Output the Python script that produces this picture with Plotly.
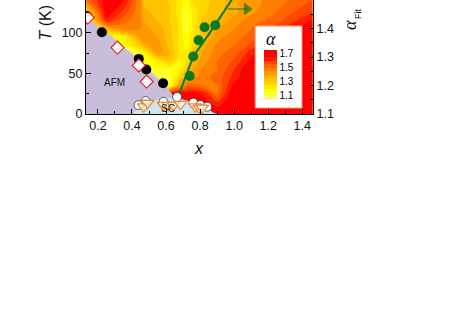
import plotly.graph_objects as go

# alpha map, rows bottom to top
grid_x = [0.13, 0.25, 0.35, 0.45, 0.47, 0.55, 0.62, 0.68, 0.72, 0.76, 0.82, 0.9, 1.0, 1.1, 1.2, 1.3, 1.46]
grid_t = [0, 15, 25, 35, 45, 55, 65, 75, 85, 95, 105, 115, 125, 141]
alpha = [
    [1.72, 1.72, 1.72, 1.72, 1.72, 1.72, 1.72, 1.72, 1.72, 1.72, 1.72, 1.72, 1.72, 1.72, 1.72, 1.72, 1.72],
    [1.15, 1.15, 1.15, 1.15, 1.15, 1.15, 1.72, 1.72, 1.72, 1.70, 1.68, 1.60, 1.72, 1.72, 1.72, 1.72, 1.72],
    [1.15, 1.15, 1.15, 1.15, 1.15, 1.15, 1.68, 1.70, 1.68, 1.68, 1.64, 1.50, 1.72, 1.72, 1.72, 1.72, 1.72],
    [1.15, 1.15, 1.15, 1.15, 1.15, 1.12, 1.15, 1.42, 1.50, 1.52, 1.50, 1.50, 1.67, 1.72, 1.72, 1.72, 1.72],
    [1.15, 1.15, 1.15, 1.15, 1.15, 1.10, 1.12, 1.28, 1.38, 1.44, 1.48, 1.52, 1.62, 1.72, 1.72, 1.72, 1.72],
    [1.15, 1.15, 1.15, 1.15, 1.15, 1.15, 1.15, 1.20, 1.32, 1.40, 1.46, 1.50, 1.60, 1.72, 1.72, 1.72, 1.72],
    [1.15, 1.15, 1.15, 1.15, 1.15, 1.22, 1.32, 1.20, 1.25, 1.37, 1.43, 1.50, 1.56, 1.67, 1.72, 1.72, 1.72],
    [1.15, 1.15, 1.15, 1.15, 1.17, 1.42, 1.36, 1.24, 1.22, 1.32, 1.41, 1.48, 1.53, 1.63, 1.71, 1.72, 1.72],
    [1.15, 1.15, 1.15, 1.32, 1.38, 1.43, 1.33, 1.24, 1.17, 1.27, 1.38, 1.46, 1.50, 1.56, 1.67, 1.72, 1.72],
    [1.15, 1.15, 1.20, 1.42, 1.44, 1.40, 1.32, 1.24, 1.16, 1.24, 1.34, 1.43, 1.48, 1.52, 1.60, 1.67, 1.72],
    [1.15, 1.35, 1.47, 1.45, 1.42, 1.38, 1.32, 1.24, 1.13, 1.22, 1.34, 1.40, 1.45, 1.50, 1.54, 1.61, 1.70],
    [1.15, 1.62, 1.52, 1.45, 1.40, 1.35, 1.30, 1.24, 1.12, 1.22, 1.32, 1.36, 1.42, 1.48, 1.51, 1.56, 1.66],
    [1.25, 1.69, 1.58, 1.45, 1.36, 1.34, 1.31, 1.22, 1.12, 1.22, 1.29, 1.33, 1.39, 1.44, 1.48, 1.53, 1.60],
    [1.50, 1.69, 1.66, 1.46, 1.34, 1.33, 1.29, 1.23, 1.17, 1.26, 1.29, 1.31, 1.39, 1.43, 1.46, 1.49, 1.55],
]

afm_x = [0.13, 0.14, 0.276, 0.44, 0.61, 0.65, 0.9, 0.13]
afm_t = [120, 118, 97, 67, 32, 20, 0, 0]
sc_x = [0.40, 0.45, 0.50, 0.55, 0.60, 0.65, 0.70, 0.75, 0.80, 0.85, 0.88]
sc_t = [0, 9, 14, 18, 20, 20, 18, 15, 12, 7, 0]

black_x = [0.135, 0.223, 0.44, 0.484, 0.583]
black_t = [121, 101, 68, 55, 38]
diamond_x = [0.14, 0.315, 0.44, 0.486]
diamond_t = [119, 82, 60, 40]
green_x = [0.739, 0.76, 0.791, 0.826, 0.889]
green_t = [47, 71, 91, 107, 109.5]
line_x = [0.679, 0.76, 0.86, 0.986]
line_t = [26, 71, 101, 141]
arrow_x = [0.965, 1.075]
arrow_t = [129.6, 129.6]
circle_x = [0.439, 0.48, 0.585, 0.665, 0.76, 0.801, 0.842]
circle_t = [11, 16, 15, 21, 14, 11, 9]
tri_x = [0.469, 0.492, 0.585, 0.614, 0.644, 0.685, 0.772, 0.795, 0.813]
tri_t = [9, 13.6, 11, 11, 11, 12.3, 9, 7.5, 7.5]

colorscale = [
    [0.0, 'rgb(255,255,110)'],
    [0.15, 'rgb(255,255,0)'],
    [0.35, 'rgb(255,205,0)'],
    [0.55, 'rgb(255,150,0)'],
    [0.75, 'rgb(255,80,0)'],
    [0.9, 'rgb(255,0,0)'],
    [1.0, 'rgb(255,0,0)'],
]

# plot box in page pixels
W, H = 463, 325
L, R, T, B = 85.5, 313, 0, 114
font = 'Liberation Sans, Arial, sans-serif'
serif = 'Liberation Serif, serif'

def px(x):
    return (x - L) / (R - L)

def py(y):
    return 1 - (y - T) / (B - T)

fig = go.Figure()
fig.add_trace(go.Contour(
    x=grid_x, y=grid_t, z=alpha,
    colorscale=colorscale, zmin=1.05, zmax=1.75,
    contours=dict(start=1.1, end=1.7, size=0.05, coloring='fill'),
    line_width=0,
    colorbar=dict(
        x=px(264), xanchor='left', y=py(74.5), yanchor='middle',
        len=49 / (B - T), thickness=13, xpad=0, ypad=0, outlinewidth=0,
        tickvals=[1.1, 1.3, 1.5, 1.7], ticks='', tickfont=dict(size=10, color='black'),
    ),
))
fig.add_trace(go.Scatter(x=afm_x, y=afm_t, mode='lines', fill='toself', fillcolor='rgb(200,190,220)', line_width=0))
fig.add_trace(go.Scatter(x=sc_x, y=sc_t, mode='lines', fill='toself', fillcolor='rgb(205,230,240)', line_width=0))
fig.add_trace(go.Scatter(x=line_x, y=line_t, mode='lines', line=dict(color='#0a7a1e', width=2)))
fig.add_trace(go.Scatter(x=arrow_x, y=arrow_t, mode='lines+markers', line=dict(color='#0a7a1e', width=1),
                         marker=dict(symbol=['line-ns', 'triangle-right'], size=[0, 10], color='#0a7a1e',
                                     line=dict(color='#0a7a1e', width=1))))
fig.add_trace(go.Scatter(x=black_x, y=black_t, mode='markers',
                         marker=dict(color='black', size=10)))
fig.add_trace(go.Scatter(x=diamond_x, y=diamond_t, mode='markers',
                         marker=dict(symbol='diamond', color='white', size=10, line=dict(color='#f01020', width=1.1))))
fig.add_trace(go.Scatter(x=green_x, y=green_t, mode='markers',
                         marker=dict(color='#0a7a1e', size=10)))
fig.add_trace(go.Scatter(x=circle_x, y=circle_t, mode='markers',
                         marker=dict(color='white', size=9, line=dict(color='#222', width=0.7))))
fig.add_trace(go.Scatter(x=tri_x, y=tri_t, mode='markers',
                         marker=dict(symbol='triangle-down', color='rgba(255,255,255,0.6)', size=11,
                                     line=dict(color='#f08a30', width=1.3))))
# empty trace only to bring up the right axis
fig.add_trace(go.Scatter(x=[], y=[], yaxis='y2'))

fig.update_layout(
    width=W, height=H, autosize=False,
    margin=dict(l=L, r=W - R, t=T, b=H - B, pad=0),
    paper_bgcolor='white', plot_bgcolor='white',
    showlegend=False,
    hovermode=False,
    font=dict(family=font, size=12.5, color='#111'),
    xaxis=dict(range=[0.13, 1.463], tickmode='array', tickvals=[0.2, 0.4, 0.6, 0.8, 1.0, 1.2, 1.4],
               ticktext=['0.2', '0.4', '0.6', '0.8', '1.0', '1.2', '1.4'],
               ticks='inside', ticklen=5, tickcolor='black', showgrid=False, zeroline=False,
               showline=True, linecolor='black', linewidth=1,
               minor=dict(dtick=0.1, ticks='inside', ticklen=3, tickcolor='black')),
    yaxis=dict(range=[0, 140.7], tickvals=[0, 50, 100], ticks='inside', ticklen=5, tickcolor='black',
               showgrid=False, zeroline=False, showline=True, linecolor='black', linewidth=1,
               minor=dict(dtick=25, ticks='inside', ticklen=3, tickcolor='black')),
    yaxis2=dict(overlaying='y', side='right', range=[1.1, 1.5], tickvals=[1.1, 1.2, 1.3, 1.4, 1.5],
                ticktext=['1.1', '1.2', '1.3', '1.4', '1.5'],
                ticks='inside', ticklen=5, tickcolor='black', showgrid=False, zeroline=False,
                showline=True, linecolor='black', linewidth=1,
                minor=dict(dtick=0.05, ticks='inside', ticklen=3, tickcolor='black')),
)

# legend box behind the colorbar
fig.add_shape(type='rect', xref='paper', yref='paper', x0=px(255), x1=px(302), y0=py(108), y1=py(26),
              fillcolor='white', line=dict(color='#ff9080', width=1), layer='above')

labels = [
    ('<i>T</i> (K)', 45, 23, 16, -90, font),
    ('<i>x</i>', 199, 148, 16, 0, font),
    ('<i>α</i>', 350, 25, 18, -90, serif),
    ('Fit', 358, 14, 9, -90, font),
    ('<i>α</i>', 271, 39, 18, 0, serif),
    ('AFM', 114, 82, 10, 0, font),
    ('SC', 168, 108, 10, 0, font),
]
for text, x, y, size, angle, family in labels:
    fig.add_annotation(text=text, xref='paper', yref='paper', x=px(x), y=py(y), showarrow=False,
                       xanchor='center', yanchor='middle', textangle=angle,
                       font=dict(size=size, color='#111', family=family))

fig.write_html("out.html", config={'displayModeBar': False}, post_script="document.body.style.margin='0';")
